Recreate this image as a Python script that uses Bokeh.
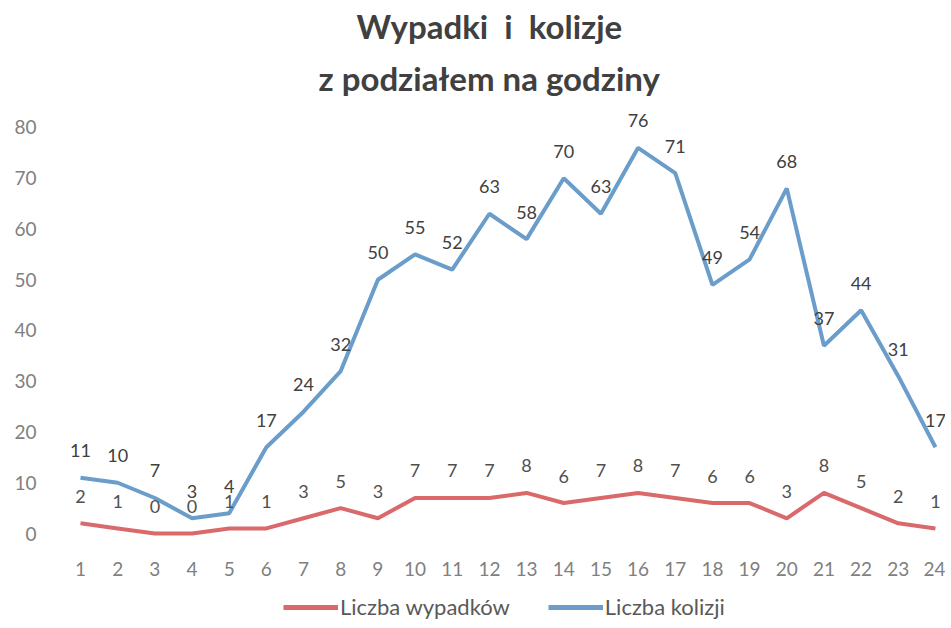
from bokeh.plotting import figure
from bokeh.models import ColumnDataSource, Legend, LegendItem, Title, Range1d, FixedTicker
from bokeh.core.properties import value
from bokeh.layouts import column
from bokeh.embed import file_html
from bokeh.resources import INLINE

hours = list(range(1, 25))
wypadki = [2, 1, 0, 0, 1, 1, 3, 5, 3, 7, 7, 7, 8, 6, 7, 8, 7, 6, 6, 3, 8, 5, 2, 1]
kolizje = [11, 10, 7, 3, 4, 17, 24, 32, 50, 55, 52, 63, 58, 70, 63, 76, 71, 49, 54, 68, 37, 44, 31, 17]
y_ticks = [0, 10, 20, 30, 40, 50, 60, 70, 80]
series_names = ["Liczba wypadków", "Liczba kolizji"]
title_lines = ["Wypadki\u00a0 i\u00a0 kolizje", "z podziałem na godziny"]

FONT = "Lato"
RED = "#d9696b"
BLUE = "#6b9dcb"

src = ColumnDataSource(dict(
    x=hours, w=wypadki, k=kolizje,
    wl=[str(v) for v in wypadki], kl=[str(v) for v in kolizje],
))

p = figure(width=945, height=584, output_backend="svg", toolbar_location=None,
           x_range=Range1d(0.408, 24.27), y_range=Range1d(-3.94, 83.74),
           min_border_left=58, min_border_right=0, min_border_top=108, min_border_bottom=31)
p.outline_line_color = None
p.grid.grid_line_color = None
p.background_fill_color = "white"
p.border_fill_color = "white"

p.add_layout(Title(text=title_lines[1], align="left", offset=260, text_font=FONT,
                   text_font_size="33px", text_font_style="bold", text_color="#404040",
                   standoff=21), "above")
p.add_layout(Title(text=title_lines[0], align="left", offset=298, text_font=FONT,
                   text_font_size="33px", text_font_style="bold", text_color="#404040",
                   standoff=0), "above")

p.line("x", "w", source=src, line_color=RED, line_width=4)
p.line("x", "k", source=src, line_color=BLUE, line_width=4)

p.text("x", "w", text="wl", source=src, text_align="center", text_baseline="middle",
       y_offset=-27, text_font_size="18px", text_color="#505050", text_font=value(FONT))
p.text("x", "k", text="kl", source=src, text_align="center", text_baseline="middle",
       y_offset=-27, text_font_size="18px", text_color="#404040", text_font=value(FONT))

for ax in (p.xaxis[0], p.yaxis[0]):
    ax.axis_line_color = None
    ax.major_tick_line_color = None
    ax.minor_tick_line_color = None
    ax.major_tick_out = 0
    ax.major_tick_in = 0
    ax.major_label_text_color = "#808080"
    ax.major_label_text_font = FONT
    ax.major_label_text_font_size = "19px"

p.xaxis.ticker = FixedTicker(ticks=hours)
p.xaxis.major_label_standoff = 8
p.yaxis.ticker = FixedTicker(ticks=y_ticks)
p.yaxis.major_label_standoff = 22

# separate strip for the legend
lg = figure(width=945, height=36, output_backend="svg", toolbar_location=None,
            x_range=Range1d(0, 1), y_range=Range1d(0, 1),
            min_border=0)
lg.axis.visible = False
lg.grid.grid_line_color = None
lg.outline_line_color = None
lw = lg.line([0, 1], [-5, -5], line_color=RED, line_width=5)
lk = lg.line([0, 1], [-5, -5], line_color=BLUE, line_width=5)
legend = Legend(items=[LegendItem(label=series_names[0], renderers=[lw]),
                       LegendItem(label=series_names[1], renderers=[lk])],
                orientation="horizontal", location=(225, 0),
                label_text_font=FONT, label_text_font_size="22px", label_text_color="#595959",
                glyph_width=55, spacing=38, border_line_color=None, label_standoff=2,
                padding=0, margin=0, background_fill_alpha=0)
lg.add_layout(legend)

open("out.html", "w").write(file_html(column(p, lg), INLINE))
